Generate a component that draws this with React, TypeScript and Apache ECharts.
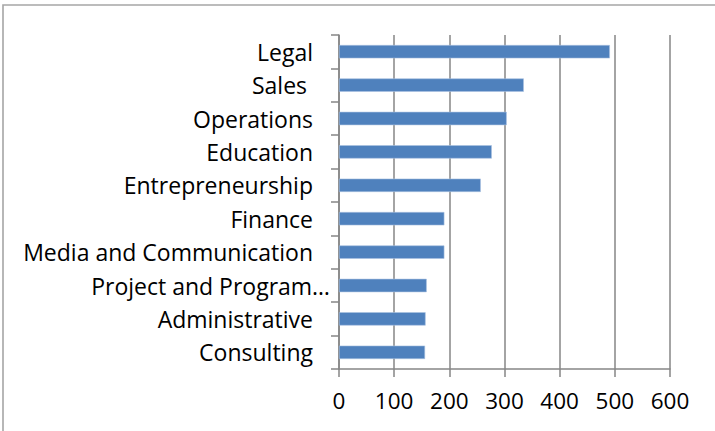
import React, { useEffect, useRef } from "react";
import * as echarts from "echarts";

const categories = [
  "Legal",
  "Sales ",
  "Operations",
  "Education",
  "Entrepreneurship",
  "Finance",
  "Media and Communication",
  "Project and Program…",
  "Administrative",
  "Consulting",
];
const values = [491, 335, 304, 277, 257, 191, 191, 159, 157, 156];
const xMin = 0;
const xMax = 600;
const xStep = 100;

const FONT = "'Open Sans', 'Liberation Sans', sans-serif";
const GRID_COLOR = "#868686";

export default function App() {
  const ref = useRef<HTMLDivElement>(null);
  useEffect(() => {
    if (!ref.current) return;
    const chart = echarts.init(ref.current, null, { renderer: "svg" });
    const yData = categories.map((c) =>
      c.endsWith("…")
        ? { value: c, textStyle: { padding: [0, -17, 0, 0] } }
        : c
    );
    chart.setOption({
      animation: false,
      backgroundColor: "#ffffff",
      textStyle: { fontFamily: FONT },
      graphic: [
        {
          type: "rect",
          shape: { x: 3, y: 5, width: 900, height: 600 },
          style: { fill: "none", stroke: "#a6a6a6", lineWidth: 1.6 },
          silent: true,
        },
      ],
      grid: { left: 339, right: 45, top: 35, bottom: 62, containLabel: false },
      xAxis: {
        type: "value",
        min: xMin,
        max: xMax,
        interval: xStep,
        axisLine: { show: true, lineStyle: { color: GRID_COLOR, width: 1.5 } },
        axisTick: { show: true, length: 8, lineStyle: { color: GRID_COLOR, width: 1.5 } },
        splitLine: { show: true, lineStyle: { color: GRID_COLOR, width: 1.5 } },
        axisLabel: { color: "#000", fontSize: 22.5, fontFamily: FONT, margin: 20 },
      },
      yAxis: {
        type: "category",
        inverse: true,
        data: yData,
        axisLine: { show: true, lineStyle: { color: GRID_COLOR, width: 1.5 } },
        axisTick: { show: true, length: 8, lineStyle: { color: GRID_COLOR, width: 1.5 } },
        axisLabel: { color: "#000", fontSize: 23, fontFamily: FONT, margin: 26 },
        splitLine: { show: false },
      },
      series: [
        {
          type: "bar",
          data: values,
          barCategoryGap: "60%",
          itemStyle: { color: "#4F81BD", borderColor: "#a9c1e0", borderWidth: 0.6 },
        },
      ],
    });
    return () => chart.dispose();
  }, []);
  return (
    <div
      ref={ref}
      style={{ position: "fixed", left: 0, top: 0, width: 715, height: 431 }}
    />
  );
}
